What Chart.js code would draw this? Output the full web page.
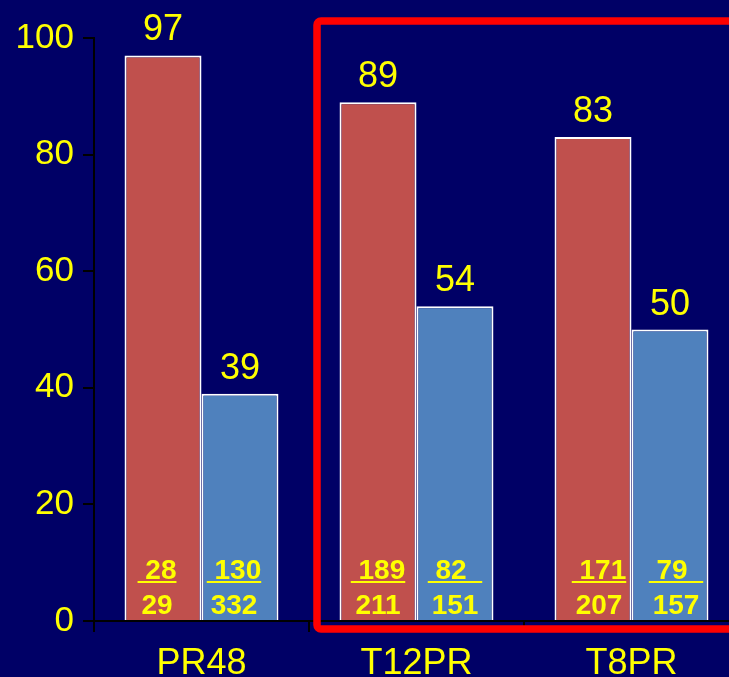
<!DOCTYPE html>
<html>
<head>
<meta charset="utf-8">
<script src="https://cdn.jsdelivr.net/npm/chart.js@4/dist/chart.umd.min.js"></script>
<style>
  html, body { margin: 0; padding: 0; background: #000066; overflow: hidden; }
  #wrap { position: relative; width: 739px; height: 677px; }
  canvas { display: block; }
</style>
</head>
<body>
<div id="wrap"><canvas id="c" width="739" height="677" style="width:739px;height:677px"></canvas></div>
<script>
// Regimens and response rates (%)
const categories = ['PR48', 'T12PR', 'T8PR'];
const redValues  = [97, 89, 83];
const blueValues = [39, 54, 50];

// Responders / patients shown inside each bar (numerators keep their padding spaces)
const redNumerators    = [' 28', ' 189', ' 171'];
const redDenominators  = ['29', '211', '207'];
const blueNumerators   = [' 130', ' 82  ', ' 79  '];
const blueDenominators = ['332', '151', '157'];

const yTicks = [0, 20, 40, 60, 80, 100];

const YELLOW = '#FFFF00';
const FONT = 'Arial, "Liberation Sans", sans-serif';

const labelPlugin = {
  id: 'barLabels',
  afterDatasetsDraw(chart, args, opts) {
    const ctx = chart.ctx;
    const yScale = chart.scales.y;
    const yZero = yScale.getPixelForValue(0);
    ctx.save();
    ctx.fillStyle = YELLOW;
    chart.data.datasets.forEach((ds, di) => {
      const meta = chart.getDatasetMeta(di);
      const nums = di === 0 ? redNumerators : blueNumerators;
      const dens = di === 0 ? redDenominators : blueDenominators;
      meta.data.forEach((bar, i) => {
        // value above the bar
        ctx.font = '36px ' + FONT;
        ctx.textAlign = 'center';
        ctx.textBaseline = 'alphabetic';
        ctx.fillText(String(ds.data[i]), bar.x, bar.y - 15);

        // fraction inside the bar foot
        const cx = bar.x + opts.shift[i];
        ctx.font = 'bold 28px ' + FONT;
        const w = ctx.measureText(nums[i]).width;
        ctx.textAlign = 'left';
        ctx.fillText(nums[i], cx - w / 2, yZero - 42);
        ctx.fillRect(cx - w / 2, yZero - 40, w, 2);
        ctx.textAlign = 'center';
        ctx.fillText(dens[i], cx, yZero - 7);
      });
    });
    ctx.restore();
  }
};

const framePlugin = {
  id: 'highlightFrame',
  afterDraw(chart) {
    const ctx = chart.ctx;
    const x = chart.scales.x, y = chart.scales.y;
    const left = x.getPixelForValue(0.5) + 8;
    const top = y.getPixelForValue(100) - 17;
    const bottom = y.getPixelForValue(0) + 8;
    const right = chart.chartArea.right + 30;
    ctx.save();
    ctx.strokeStyle = '#FF0000';
    ctx.lineWidth = 7.5;
    ctx.lineJoin = 'round';
    ctx.beginPath();
    ctx.roundRect(left, top, right - left, bottom - top, 4);
    ctx.stroke();
    ctx.restore();
  }
};

new Chart(document.getElementById('c'), {
  type: 'bar',
  data: {
    labels: categories,
    datasets: [
      { data: redValues,  backgroundColor: '#C0504D', borderColor: '#FFFFFF', borderWidth: 2 },
      { data: blueValues, backgroundColor: '#4F81BD', borderColor: '#FFFFFF', borderWidth: 2 }
    ]
  },
  options: {
    responsive: false,
    maintainAspectRatio: false,
    animation: false,
    devicePixelRatio: 1,
    layout: { padding: { top: 38, left: 0, right: 0, bottom: 0 } },
    datasets: { bar: { barPercentage: 1, categoryPercentage: 0.716 } },
    plugins: {
      legend: { display: false },
      tooltip: { enabled: false },
      barLabels: { shift: [-6, 0, 6] }
    },
    scales: {
      x: {
        grid: { drawOnChartArea: false, drawTicks: true, tickLength: 11, tickColor: '#000000', lineWidth: 2 },
        border: { color: '#000000', width: 2 },
        ticks: { color: YELLOW, font: { size: 36, family: FONT }, padding: 10, maxRotation: 0 },
        afterFit(s) { s.height = 56; }
      },
      y: {
        min: 0, max: 100,
        afterBuildTicks(s) { s.ticks = yTicks.map(v => ({ value: v })); },
        grid: { drawOnChartArea: false, drawTicks: true, tickLength: 11, tickColor: '#000000', lineWidth: 2 },
        border: { color: '#000000', width: 2 },
        ticks: { color: YELLOW, font: { size: 35, family: FONT }, padding: 9 },
        afterFit(s) { s.width = 94; }
      }
    }
  },
  plugins: [labelPlugin, framePlugin]
});
</script>
</body>
</html>
